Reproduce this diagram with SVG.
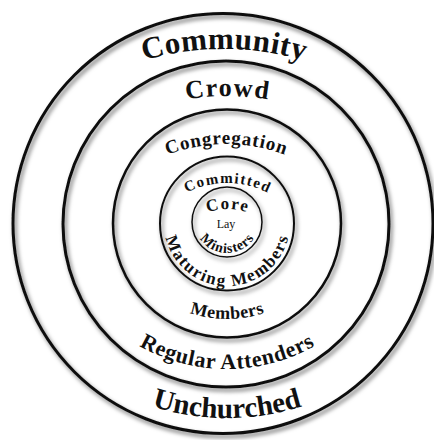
<svg xmlns="http://www.w3.org/2000/svg" xmlns:xlink="http://www.w3.org/1999/xlink" width="434" height="440" viewBox="0 0 434 440">
<style>
.ring{fill:none;stroke:#111;filter:url(#sh)}
.t{font-family:"Liberation Serif","Times New Roman",serif;font-weight:bold;fill:#111;text-anchor:middle}
</style>
<defs>
<filter id="sh" x="-10%" y="-10%" width="125%" height="125%">
<feDropShadow dx="2" dy="3" stdDeviation="2" flood-color="#000" flood-opacity="0.55"/>
</filter>
<path id="pCommunity" d="M -59,332 A 283,283 0 0 1 507,332"/>
<path id="pCrowd" d="M -13,336 A 240,240 0 0 1 467,336"/>
<path id="pCongregation" d="M 60,310 A 166,166 0 0 1 392,310"/>
<path id="pCommitted" d="M 138,272 A 89,89 0 0 1 316,272"/>
<path id="pCore" d="M 165,271 A 62,62 0 0 1 289,271"/>
<path id="pMinisters" d="M 195,221 A 32,32 0 0 0 259,221"/>
<path id="pMaturing" d="M 164,223 A 63,63 0 0 0 290,223"/>
<path id="pMembers" d="M 109,201 A 118,118 0 0 0 345,201"/>
<path id="pRegular" d="M 49,191 A 178,178 0 0 0 405,191"/>
<path id="pUnchurched" d="M -23,168 A 250,250 0 0 0 477,168"/>
</defs>
<rect width="434" height="440" fill="#fff"/>
<g id="community">
<circle class="ring" cx="223" cy="223.5" r="210" stroke-width="3"/>
<text class="t" font-size="31"><textPath xlink:href="#pCommunity" href="#pCommunity" startOffset="50%" textLength="162" lengthAdjust="spacing">Community</textPath></text>
<text class="t" font-size="29"><textPath xlink:href="#pUnchurched" href="#pUnchurched" startOffset="50%" textLength="153" lengthAdjust="spacing">Unchurched</textPath></text>
</g>
<g id="crowd">
<circle class="ring" cx="226" cy="224" r="163" stroke-width="3"/>
<text class="t" font-size="26"><textPath xlink:href="#pCrowd" href="#pCrowd" startOffset="50%" textLength="82" lengthAdjust="spacing">Crowd</textPath></text>
<text class="t" font-size="22"><textPath xlink:href="#pRegular" href="#pRegular" startOffset="50%" textLength="184" lengthAdjust="spacing">Regular Attenders</textPath></text>
</g>
<g id="congregation">
<circle class="ring" cx="227" cy="223.5" r="114" stroke-width="2.5"/>
<text class="t" font-size="19"><textPath xlink:href="#pCongregation" href="#pCongregation" startOffset="50%" textLength="120" lengthAdjust="spacing">Congregation</textPath></text>
<text class="t" font-size="18"><textPath xlink:href="#pMembers" href="#pMembers" startOffset="50%" textLength="76" lengthAdjust="spacing">Members</textPath></text>
</g>
<g id="committed">
<circle class="ring" cx="227" cy="223.5" r="67" stroke-width="2"/>
<text class="t" font-size="15"><textPath xlink:href="#pCommitted" href="#pCommitted" startOffset="50%" textLength="84" lengthAdjust="spacing">Committed</textPath></text>
<text class="t" font-size="17"><textPath xlink:href="#pMaturing" href="#pMaturing" startOffset="50%" textLength="168" lengthAdjust="spacing">Maturing Members</textPath></text>
</g>
<g id="core">
<circle class="ring" cx="227" cy="222" r="35" stroke-width="1.5"/>
<text class="t" font-size="17"><textPath xlink:href="#pCore" href="#pCore" startOffset="50%" textLength="40" lengthAdjust="spacing">Core</textPath></text>
<text class="t" x="226" y="228" font-size="12" style="font-weight:normal">Lay</text>
<text class="t" font-size="14"><textPath xlink:href="#pMinisters" href="#pMinisters" startOffset="50%" textLength="64" lengthAdjust="spacing">Ministers</textPath></text>
</g>
</svg>
